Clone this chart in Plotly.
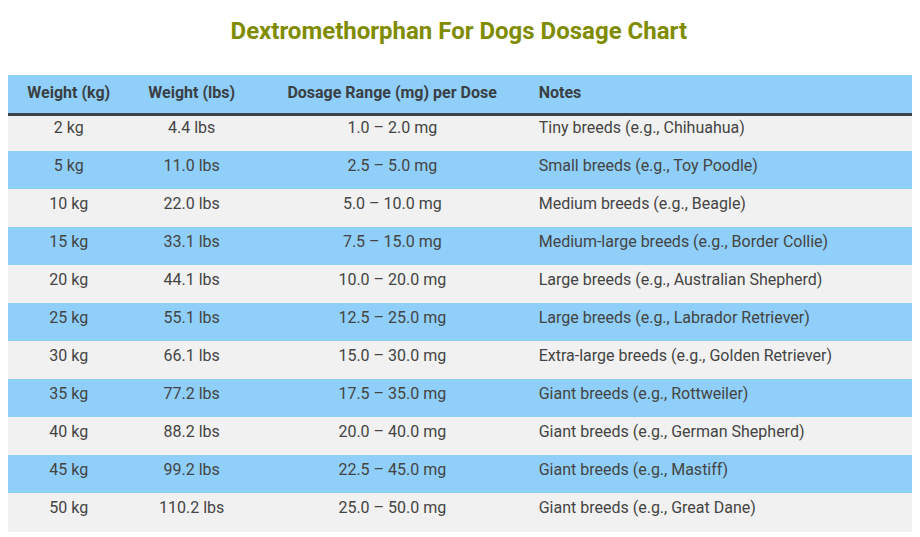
import plotly.graph_objects as go

headers = ["Weight (kg)", "Weight (lbs)", "Dosage Range (mg) per Dose", "Notes"]
weight_kg = ["2 kg", "5 kg", "10 kg", "15 kg", "20 kg", "25 kg", "30 kg", "35 kg", "40 kg", "45 kg", "50 kg"]
weight_lbs = ["4.4 lbs", "11.0 lbs", "22.0 lbs", "33.1 lbs", "44.1 lbs", "55.1 lbs", "66.1 lbs",
              "77.2 lbs", "88.2 lbs", "99.2 lbs", "110.2 lbs"]
dosage = ["1.0 – 2.0 mg", "2.5 – 5.0 mg", "5.0 – 10.0 mg", "7.5 – 15.0 mg", "10.0 – 20.0 mg",
          "12.5 – 25.0 mg", "15.0 – 30.0 mg", "17.5 – 35.0 mg", "20.0 – 40.0 mg",
          "22.5 – 45.0 mg", "25.0 – 50.0 mg"]
notes = ["Tiny breeds (e.g., Chihuahua)", "Small breeds (e.g., Toy Poodle)",
         "Medium breeds (e.g., Beagle)", "Medium-large breeds (e.g., Border Collie)",
         "Large breeds (e.g., Australian Shepherd)", "Large breeds (e.g., Labrador Retriever)",
         "Extra-large breeds (e.g., Golden Retriever)", "Giant breeds (e.g., Rottweiler)",
         "Giant breeds (e.g., German Shepherd)", "Giant breeds (e.g., Mastiff)",
         "Giant breeds (e.g., Great Dane)"]

W, H = 920, 537
blue = "#90cff9"
gray = "#f1f1f1"
row_colors = [gray if i % 2 == 0 else blue for i in range(len(weight_kg))]

# page renders with ~8px offset, so positions are pulled up/left to compensate
top = 67

fig = go.Figure(go.Table(
    domain=dict(x=[0, 906 / W], y=[0, 1 - top / H]),
    columnwidth=[122, 125, 278, 385],
    header=dict(
        values=["<b>%s</b>" % h for h in headers],
        fill_color=blue, line_color=blue, height=38,
        align=["center", "center", "center", "left"],
        font=dict(family="Roboto", size=16, color="#3a3f44"),
    ),
    cells=dict(
        values=[weight_kg, weight_lbs, dosage, notes],
        fill_color=[row_colors] * 4, line_color=[row_colors] * 4, height=38,
        align=["center", "center", "center", "left"],
        font=dict(family="Roboto", size=16, color="#444444"),
    ),
))

fig.add_shape(type="line", xref="paper", yref="paper",
              x0=0, x1=906 / W, y0=1 - (top + 39.5) / H, y1=1 - (top + 39.5) / H,
              line=dict(color="#3d4349", width=3))

fig.update_layout(
    width=W, height=H,
    margin=dict(l=0, r=0, t=0, b=0),
    paper_bgcolor="white",
    title=dict(text="<b>Dextromethorphan For Dogs Dosage Chart</b>",
               x=0.49, y=1 - 23 / H, xanchor="center", yanchor="middle",
               font=dict(family="Roboto", size=24, color="#7f8c00")),
)

fig.write_html("out.html")
